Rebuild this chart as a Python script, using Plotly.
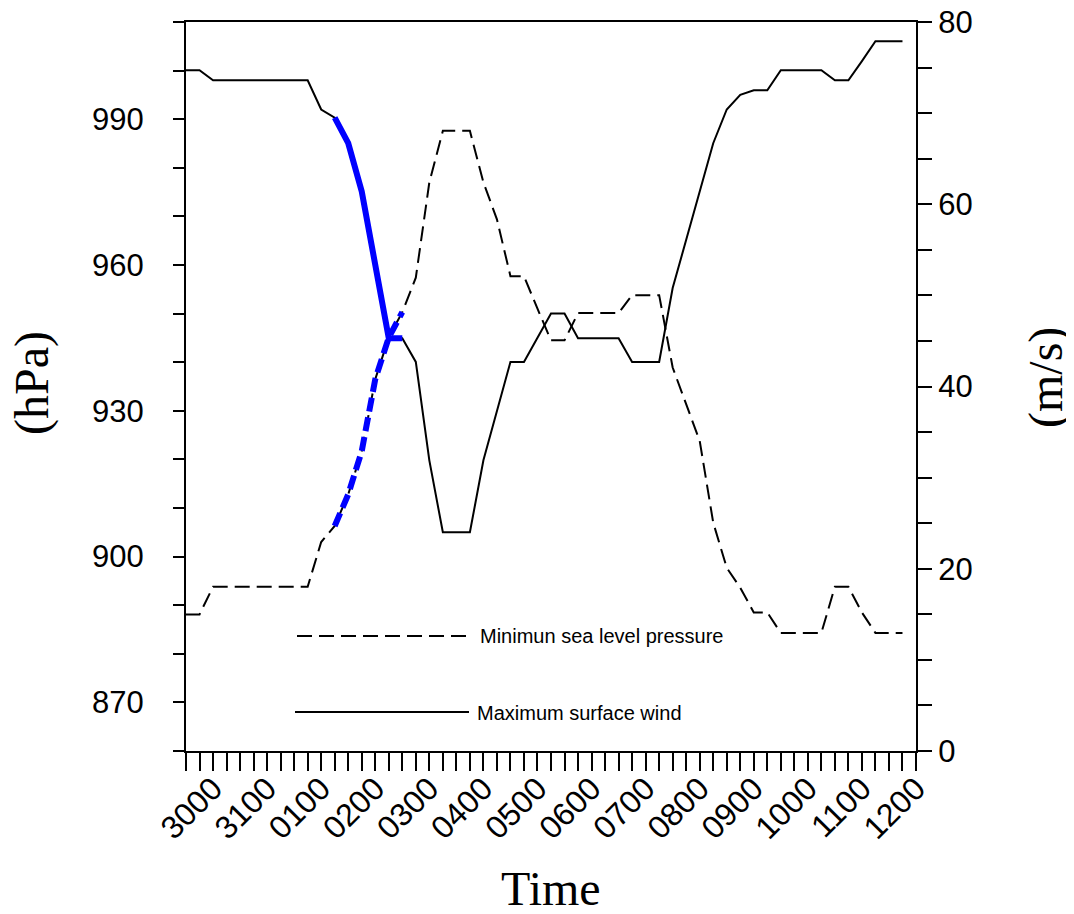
import plotly.graph_objects as go

# ---- data (6-hourly steps, index 0 = 3000 UTC) ----
steps = list(range(54))
tick_labels = ["3000", "3100", "0100", "0200", "0300", "0400", "0500",
               "0600", "0700", "0800", "0900", "1000", "1100", "1200"]
label_steps = [0, 4, 8, 12, 16, 20, 24, 28, 32, 36, 40, 44, 48, 52]

pressure = [888.1, 888.1, 893.8, 893.8, 893.8, 893.8, 893.8, 893.8, 893.8, 893.8,
            903.0, 906.3, 912.8, 921.7, 936.5, 945.1, 950.3, 957.4, 977.0, 987.6,
            987.6, 987.6, 977.0, 969.4, 957.7, 957.7, 951.0, 944.5, 944.5, 950.1,
            950.1, 950.1, 950.1, 953.8, 953.8, 953.8, 938.9, 931.4, 923.8, 907.0,
            897.7, 893.6, 888.5, 888.5, 884.3, 884.3, 884.3, 884.3, 893.8, 893.8,
            888.5, 884.3, 884.3, 884.3]

wind = [74.7, 74.7, 73.6, 73.6, 73.6, 73.6, 73.6, 73.6, 73.6, 73.6,
        70.4, 69.5, 66.7, 61.4, 53.3, 45.3, 45.3, 42.7, 31.9, 24.0,
        24.0, 24.0, 31.9, 37.3, 42.7, 42.7, 45.3, 48.0, 48.0, 45.3,
        45.3, 45.3, 45.3, 42.7, 42.7, 42.7, 50.8, 56.1, 61.4, 66.7,
        70.4, 72.0, 72.5, 72.5, 74.7, 74.7, 74.7, 74.7, 73.6, 73.6,
        75.7, 77.9, 77.9, 77.9]

highlight = slice(11, 17)  # rapid intensification period drawn in blue

legend_names = ["Minimun sea level pressure", "Maximum surface wind"]

SANS = "Liberation Sans, Arial, Helvetica, sans-serif"
SERIF = "Liberation Serif, Times New Roman, serif"

fig = go.Figure()
fig.add_trace(go.Scatter(x=steps, y=pressure, mode="lines", yaxis="y",
                         line=dict(color="black", width=2, dash="15px,7px"),
                         showlegend=False))
fig.add_trace(go.Scatter(x=steps, y=wind, mode="lines", yaxis="y2",
                         line=dict(color="black", width=2),
                         showlegend=False))
fig.add_trace(go.Scatter(x=steps[highlight], y=pressure[highlight], mode="lines", yaxis="y",
                         line=dict(color="#0000ff", width=6, dash="14px,6px"),
                         showlegend=False))
fig.add_trace(go.Scatter(x=steps[highlight], y=wind[highlight], mode="lines", yaxis="y2",
                         line=dict(color="#0000ff", width=6),
                         showlegend=False))

W, H = 1074, 914
# plot area in page pixels (reference), page has an 8px body margin
L, R, T, B = 186, 916, 22, 751
OFF = 8


def px(x):
    return (x - L) / (R - L)


def py(y):
    return (B - y) / (B - T)


# legend lines and texts
fig.add_shape(type="line", xref="paper", yref="paper", x0=px(297), x1=px(469),
              y0=py(636), y1=py(636), line=dict(color="black", width=2, dash="15px,7px"))
fig.add_shape(type="line", xref="paper", yref="paper", x0=px(295), x1=px(469),
              y0=py(712), y1=py(712), line=dict(color="black", width=2))
fig.add_annotation(xref="paper", yref="paper", x=px(478), y=py(636), text=legend_names[0],
                   showarrow=False, xanchor="left", yanchor="middle",
                   font=dict(family=SANS, size=20, color="black"))
fig.add_annotation(xref="paper", yref="paper", x=px(475), y=py(713), text=legend_names[1],
                   showarrow=False, xanchor="left", yanchor="middle",
                   font=dict(family=SANS, size=20, color="black"))

# axis titles
fig.add_annotation(xref="paper", yref="paper", x=px(32), y=py(383), text="(hPa)",
                   showarrow=False, textangle=-90, xanchor="center", yanchor="middle",
                   font=dict(family=SERIF, size=48, color="black"))
fig.add_annotation(xref="paper", yref="paper", x=px(1046), y=py(378), text="(m/s)",
                   showarrow=False, textangle=-90, xanchor="center", yanchor="middle",
                   font=dict(family=SERIF, size=48, color="black"))
fig.add_annotation(xref="paper", yref="paper", x=px(551), y=py(888), text="Time",
                   showarrow=False, xanchor="center", yanchor="middle",
                   font=dict(family=SERIF, size=48, color="black"))

fig.update_layout(
    width=W, height=H,
    margin=dict(l=L - OFF, r=W - R + OFF, t=T - OFF, b=H - B + OFF, pad=0,
                autoexpand=False),
    paper_bgcolor="white", plot_bgcolor="white",
    xaxis=dict(range=[0, 54], tickmode="array", tickvals=label_steps, ticktext=tick_labels,
               tickangle=-45, ticks="outside", ticklen=18, tickwidth=2, tickcolor="black",
               minor=dict(dtick=1, tick0=0, ticks="outside", ticklen=18, tickwidth=2,
                          tickcolor="black"),
               showline=True, linecolor="black", linewidth=2, mirror=True,
               showgrid=False, zeroline=False, automargin=False,
               ticklabeloverflow="allow",
               tickfont=dict(family=SANS, size=32, color="black"),
               ticklabelshift=27, ticklabelstandoff=-14),
    yaxis=dict(range=[860, 1010], tickmode="linear", tick0=870, dtick=30,
               ticks="outside", ticklen=11, tickwidth=2, tickcolor="black",
               minor=dict(dtick=10, tick0=860, ticks="outside", ticklen=11, tickwidth=2,
                          tickcolor="black"),
               showline=True, linecolor="black", linewidth=2,
               showgrid=False, zeroline=False, automargin=False,
               ticklabeloverflow="allow",
               tickfont=dict(family=SANS, size=31, color="black"),
               ticklabelstandoff=23),
    yaxis2=dict(range=[0, 80], overlaying="y", side="right", tickmode="linear",
                tick0=0, dtick=20,
                ticks="outside", ticklen=14, tickwidth=2, tickcolor="black",
                minor=dict(dtick=5, tick0=0, ticks="outside", ticklen=14, tickwidth=2,
                           tickcolor="black"),
                showline=True, linecolor="black", linewidth=2,
                showgrid=False, zeroline=False, automargin=False,
                ticklabeloverflow="allow",
                tickfont=dict(family=SANS, size=31, color="black"),
                ticklabelstandoff=0),
    showlegend=False,
)

fig.write_html("out.html")
